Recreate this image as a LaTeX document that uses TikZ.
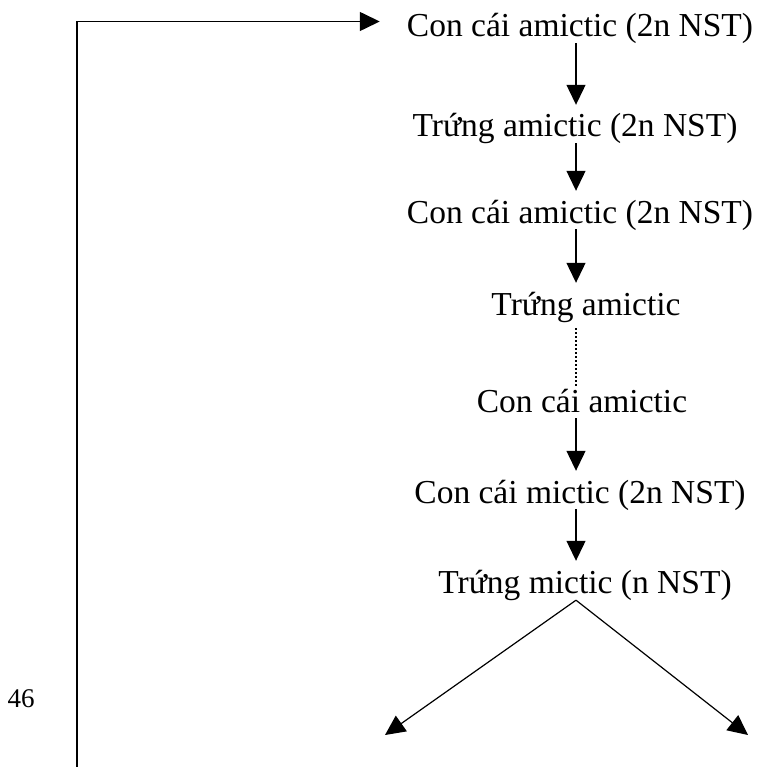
\documentclass[tikz,border=0pt]{standalone}
\usepackage{fontspec}
\setmainfont{Liberation Serif}
\usetikzlibrary{arrows.meta,calc}
\begin{document}
\begin{tikzpicture}[x=1pt,y=1pt,
  lbl/.style={anchor=base,inner sep=0pt,text height=34pt,text depth=7pt,font=\fontsize{33.5}{38}\selectfont},
  arr/.style={line width=1.2pt,-{Triangle[length=20pt,width=19pt]}},
  frame/.style={line width=1.5pt,-{Triangle[length=20pt,width=19pt]}},
  dotline/.style={line width=2pt,dash pattern=on 1.8pt off 2.2pt}]
\useasboundingbox (0,0) rectangle (759,-767);
\coordinate (ax) at (576,0);
\node[lbl] (t1) at (580,-37) {Con cái amictic (2n NST)};
\node[lbl] (t2) at (575,-137) {Trứng amictic (2n NST)};
\node[lbl] (t3) at (580,-223) {Con cái amictic (2n NST)};
\node[lbl] (t4) at (586,-315) {Trứng amictic};
\node[lbl] (t5) at (582,-412) {Con cái amictic};
\node[lbl] (t6) at (580,-503) {Con cái mictic (2n NST)};
\node[lbl] (t7) at (585,-593) {Trứng mictic (n NST)};
\node[anchor=base,inner sep=0pt,font=\fontsize{27}{30}\selectfont] (pg) at (21,-707) {46};
\coordinate (bot) at (77,-767);
\coordinate (left) at (385,-735);
\coordinate (right) at (748,-735);
\draw[arr,shorten <=-1pt,shorten >=-2pt] (t1.south -| ax) -- (t2.north -| ax);
\draw[arr,shorten <=-1pt,shorten >=-2pt] (t2.south -| ax) -- (t3.north -| ax);
\draw[arr,shorten <=-1pt,shorten >=-2pt] (t3.south -| ax) -- (t4.north -| ax);
\draw[dotline,shorten <=6pt,shorten >=-10pt] (t4.south -| ax) -- (t5.north -| ax);
\draw[arr,shorten <=-1pt,shorten >=-2pt] (t5.south -| ax) -- (t6.north -| ax);
\draw[arr,shorten <=-1pt,shorten >=-2pt] (t6.south -| ax) -- (t7.north -| ax);
\draw[arr] (t7.south -| ax) -- (left);
\draw[arr] (t7.south -| ax) -- (right);
\draw[frame] (bot) |- ([xshift=-27pt,yshift=2pt]t1.west);
\end{tikzpicture}
\end{document}
